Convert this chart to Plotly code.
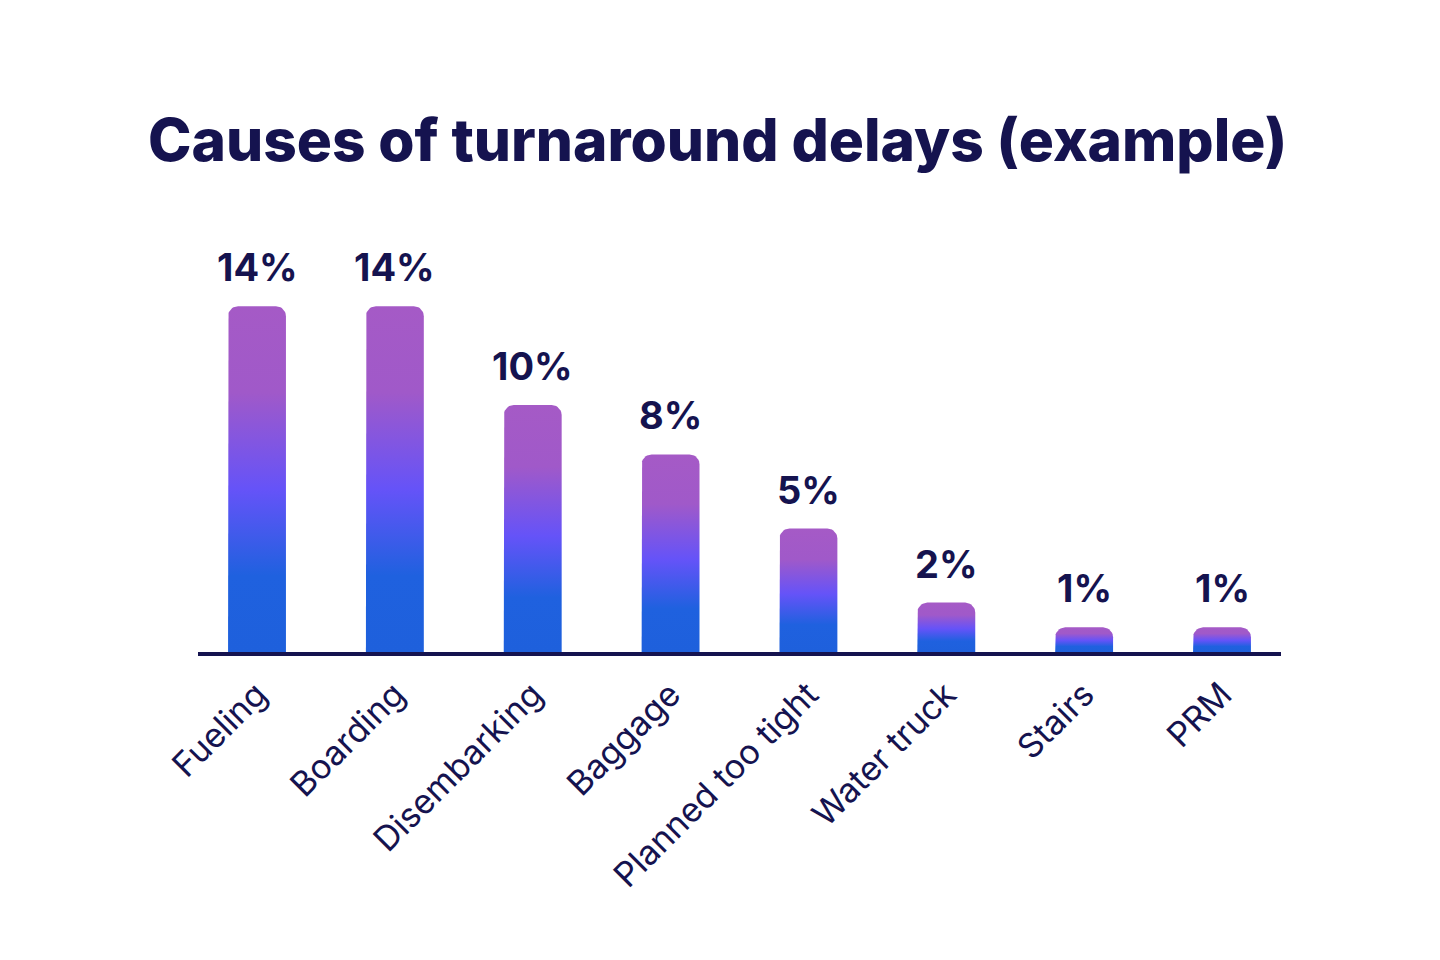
import math
import plotly.graph_objects as go

categories = ["Fueling", "Boarding", "Disembarking", "Baggage", "Planned too tight", "Water truck", "Stairs", "PRM"]
values = [14, 14, 10, 8, 5, 2, 1, 1]
labels = ["14%", "14%", "10%", "8%", "5%", "2%", "1%", "1%"]

NAVY = "#15134F"
FONT = "Inter"

# layout geometry
W, H = 1440, 960
ML, MR, MT, MB = 198, 159, 240, 308
plot_w = W - ML - MR
plot_h = H - MT - MB
x_lo, x_hi = -0.428, len(categories) - 1 + 0.428
px_per_x = plot_w / (x_hi - x_lo)
px_per_y = 24.7
y_hi = plot_h / px_per_y

bar_half = 0.21
rad_px = 10
rx = rad_px / px_per_x
ry = rad_px / px_per_y

fig = go.Figure()
for i, v in enumerate(values):
    x0, x1 = i - bar_half, i + bar_half
    xs = [x0]
    ys = [0]
    for k in range(0, 11):
        a = math.pi - k * (math.pi / 2) / 10
        xs.append(x0 + rx + rx * math.cos(a))
        ys.append(v - ry + ry * math.sin(a))
    for k in range(0, 11):
        a = math.pi / 2 - k * (math.pi / 2) / 10
        xs.append(x1 - rx + rx * math.cos(a))
        ys.append(v - ry + ry * math.sin(a))
    xs.append(x1)
    ys.append(0)
    xs.append(x0)
    ys.append(0)
    fig.add_trace(go.Scatter(
        x=xs, y=ys, mode="lines", fill="toself",
        line=dict(width=0, color="rgba(0,0,0,0)"),
        fillgradient=dict(
            type="vertical",
            start=0, stop=v,
            colorscale=[[0, "#1E60DC"], [0.22, "#1F61DF"], [0.47, "#6553F8"], [0.75, "#A059C9"], [1, "#A55AC6"]],
        ),
        hoverinfo="skip", showlegend=False,
    ))

for i, (v, t) in enumerate(zip(values, labels)):
    fig.add_annotation(
        x=i, y=v, text=t, showarrow=False, yanchor="bottom", yshift=14,
        font=dict(family=FONT, size=38, color=NAVY, weight=700),
    )

fig.update_layout(
    width=W, height=H,
    paper_bgcolor="white", plot_bgcolor="white",
    margin=dict(l=ML, r=MR, t=MT, b=MB),
    title=dict(
        text="Causes of turnaround delays (example)",
        x=717.5 / W, xanchor="center", y=1 - 140 / H, yanchor="middle",
        xref="paper",
        font=dict(family=FONT, size=58.6, color=NAVY, weight=800),
    ),
    xaxis=dict(
        range=[x_lo, x_hi], tickmode="array",
        tickvals=list(range(len(categories))), ticktext=categories,
        tickangle=-45, showgrid=False, zeroline=False,
        showline=True, linecolor=NAVY, linewidth=4,
        ticks="", ticklabelstandoff=5,
        tickfont=dict(family=FONT, size=34, color=NAVY, weight=400),
        fixedrange=True,
    ),
    yaxis=dict(range=[0, y_hi], visible=False, fixedrange=True),
    showlegend=False,
)
# title x is relative to the container
fig.update_layout(title_xref="container")

fig.write_html("out.html")
